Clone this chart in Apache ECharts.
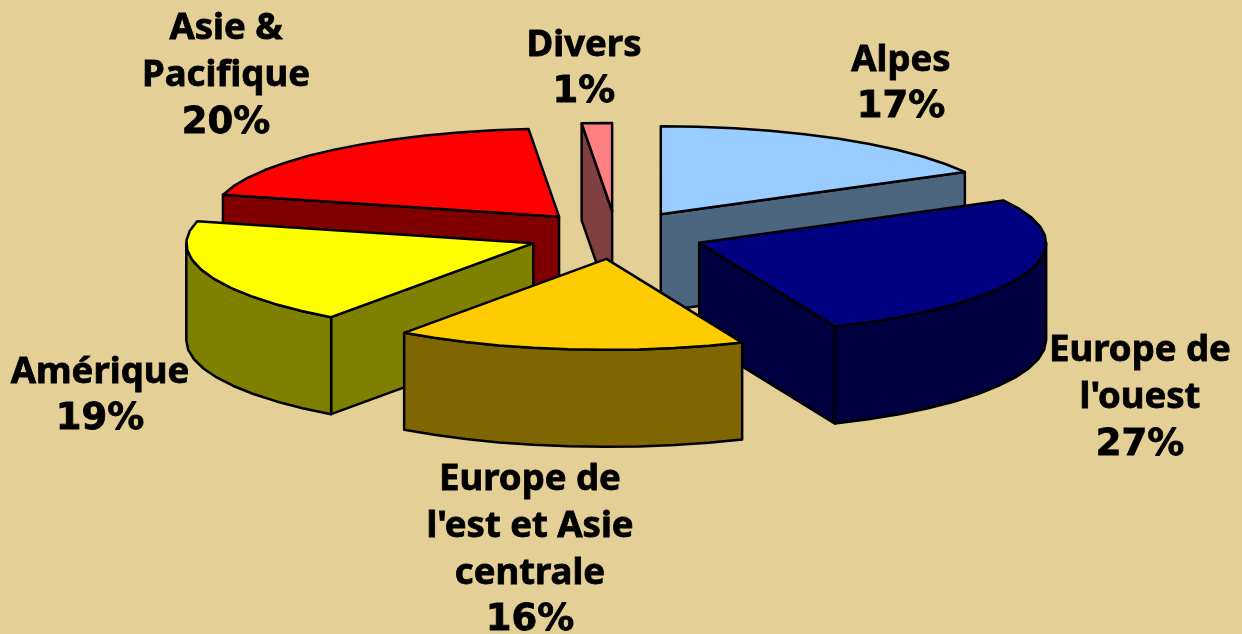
<!DOCTYPE html>
<html>
<head>
<meta charset="utf-8">
<style>html,body{margin:0;padding:0;background:#E4CF97}#c{width:1242px;height:634px}</style>
<script src="https://cdn.jsdelivr.net/npm/echarts@6/dist/echarts.min.js"></script>
</head>
<body>
<div id="c"></div>
<script>
const categories = ['Alpes', "Europe de\nl'ouest", "Europe de\nl'est et Asie\ncentrale", 'Amérique', 'Asie &\nPacifique', 'Divers'];
const shares = [17, 26.6, 16.3, 19.1, 19.6, 1.4];
const topColors = ['#99CCFF', '#000080', '#FFCC00', '#FFFF00', '#FF0000', '#FF8080'];
const sideColors = ['#4D667F', '#000040', '#806600', '#808000', '#800000', '#804040'];
const paintOrder = [1, 4, 5, 3, 2, 0];
const labelCentres = [[901, 84], [1140, 398], [530, 550], [100, 396], [226, 76], [584, 69]];

const pie = {cx: 616, cy: 235, rx: 347, ryBack: 88, ryFront: 91, depth: 97, explodeX: 88, explodeY: 24, step: 6};
const total = shares.reduce((a, b) => a + b, 0);

function renderItem(params, api) {
  const i = params.dataIndex;
  let before = 0;
  for (let k = 0; k < i; k++) before += shares[k];
  const value = api.value(0);
  const a0 = before / total * 2 * Math.PI;
  const a1 = (before + value) / total * 2 * Math.PI;
  const mid = (a0 + a1) / 2;
  const ax = pie.cx + pie.explodeX * Math.sin(mid);
  const ay = pie.cy - pie.explodeY * Math.cos(mid);
  const at = (a, dy) => {
    const c = Math.cos(a);
    return [ax + pie.rx * Math.sin(a), ay - (c > 0 ? pie.ryBack : pie.ryFront) * c + (dy || 0)];
  };
  const stepRad = pie.step * Math.PI / 180;
  const arc = (from, to, dy) => {
    const pts = [];
    const n = Math.max(1, Math.round((to - from) / stepRad));
    for (let k = 0; k <= n; k++) pts.push(at(from + (to - from) * k / n, dy));
    return pts;
  };
  const z = paintOrder[i] * 10;
  const base = {stroke: '#000', lineWidth: 2.5, lineJoin: 'round'};
  const poly = (points, fill, z2) => ({
    type: 'polygon', z2: z2, shape: {points: points},
    style: Object.assign({fill: fill}, base)
  });
  const children = [];
  const d = pie.depth;
  const apex = [ax, ay], apexB = [ax, ay + d];
  if (Math.sin(a0) < 0) children.push(poly([apex, at(a0), at(a0, d), apexB], sideColors[i], z + 1));
  if (Math.sin(a1) > 1e-6) children.push(poly([apex, at(a1), at(a1, d), apexB], sideColors[i], z + 1));
  const r0 = Math.max(a0, Math.PI / 2), r1 = Math.min(a1, 1.5 * Math.PI);
  if (r1 > r0) children.push(poly(arc(r0, r1, 0).concat(arc(r0, r1, d).reverse()), sideColors[i], z + 2));
  children.push(poly([apex].concat(arc(a0, a1, 0)), topColors[i], z + 3));
  children.push({
    type: 'text', z2: 200,
    style: {
      text: categories[i] + '\n{p|' + Math.round(value / total * 100) + '%}',
      x: labelCentres[i][0], y: labelCentres[i][1],
      align: 'center', verticalAlign: 'middle',
      fontFamily: 'Noto Sans', fontWeight: 'bold', fontSize: 36.5, lineHeight: 47, fill: '#000',
      stroke: '#000', lineWidth: 0.8,
      rich: {p: {fontFamily: 'DejaVu Sans', fontWeight: 'bold', fontSize: 37, lineHeight: 47, fill: '#000', stroke: '#000', lineWidth: 0.8}}
    }
  });
  return {type: 'group', children: children};
}

const chart = echarts.init(document.getElementById('c'), null, {renderer: 'canvas', width: 1242, height: 634});
chart.setOption({
  animation: false,
  backgroundColor: '#E4CF97',
  series: [{
    type: 'custom',
    coordinateSystem: 'none',
    renderItem: renderItem,
    silent: true,
    data: shares.map(v => [v])
  }]
});
</script>
</body>
</html>
